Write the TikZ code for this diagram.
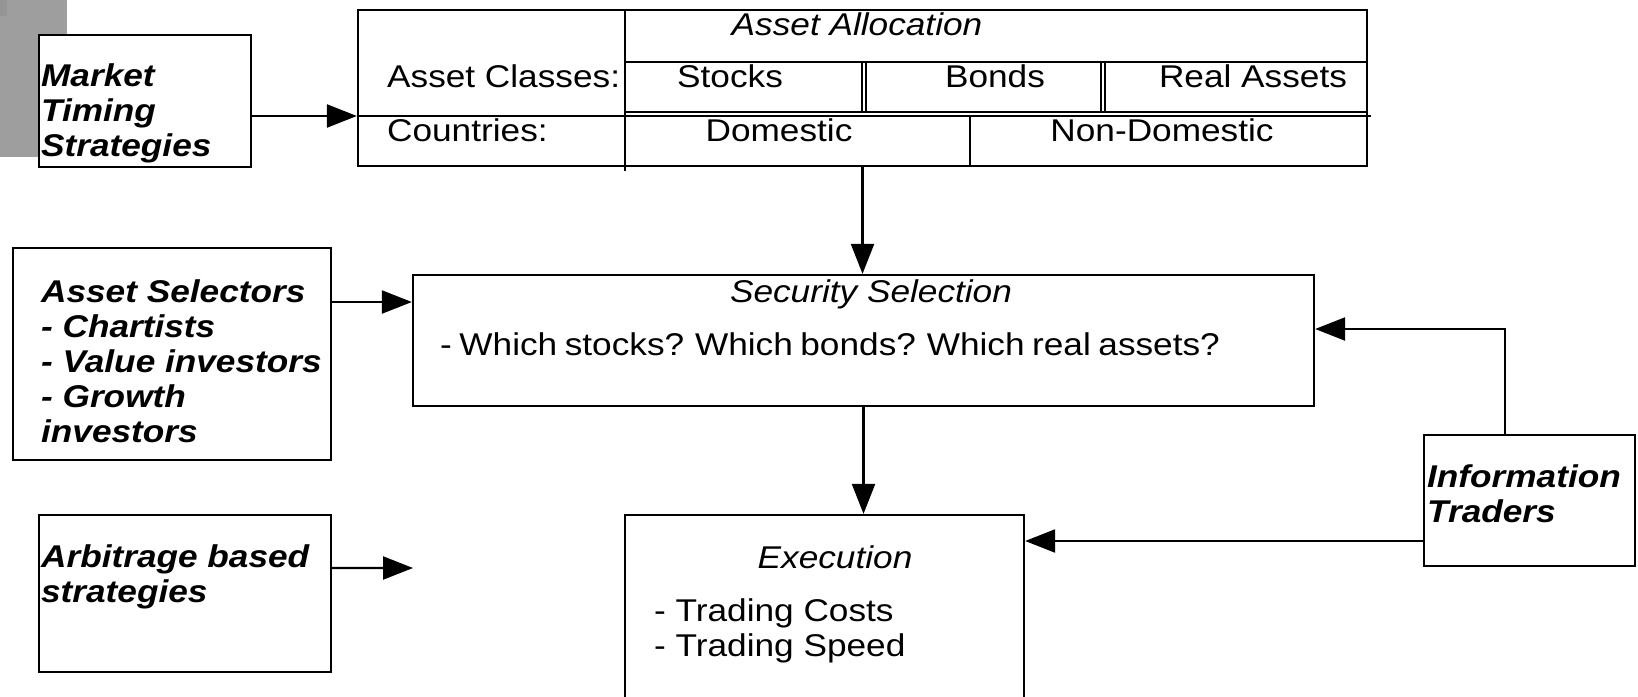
\documentclass[tikz,border=0pt]{standalone}
\usepackage{fontspec}
\setmainfont{Liberation Sans}[FakeStretch=1.12]
\usetikzlibrary{arrows.meta,fit}
\definecolor{slidegray}{HTML}{9E9E9E}
\definecolor{cornergray}{HTML}{959595}

\begin{document}
\begin{tikzpicture}[x=0.02cm, y=-0.02cm, line width=1.3pt,
    box/.style = {draw, fill=white, inner sep=0pt},
    txt/.style = {inner sep=0pt, anchor=base west, align=left,
        font=\fontsize{17.9}{19.9}\selectfont},
    head/.style = {txt, anchor=base,
        font=\fontsize{17.9}{19.9}\selectfont\itshape},
    strat/.style = {txt,
        font=\fontsize{17.9}{19.9}\selectfont\bfseries\itshape},
    arr/.style = {-{Triangle[length=0.6cm, width=0.46cm]}}]

\path[use as bounding box] (0,0) rectangle (1638,696);

% Slide corner
\fill[slidegray] (0,0) rectangle (67,157);
\fill[cornergray] (0,0) rectangle (7,16);

% Market timing (text anchored at its last line)
\node[box, fit={(39,35) (251,167)}] (mts) {};
\node[strat] (mtstxt) at (40,156) {Market\\Timing\\Strategies};

% Asset allocation table
\node[box, fit={(358,10) (1367,166)}] (aa) {};
\draw (625,10) -- (625,171);
\draw (625,62) -- (1367,62);
\draw (625,112) -- (1367,112);
\draw (358,116) -- (1371,116);
\draw (862,62) -- (862,112) (866,62) -- (866,112);
\draw (1101,62) -- (1101,112) (1105,62) -- (1105,112);
\draw (970,116) -- (970,166);
\node[head] (aatitle) at (857,36) {Asset Allocation};
\node[txt] (classes) at (386,88) {Asset Classes:};
\node[txt] (countries) at (386,141) {Countries:};
\node[txt, anchor=base] (stocks) at (730,88) {Stocks};
\node[txt, anchor=base] (bonds) at (995,88) {Bonds};
\node[txt, anchor=base] (real) at (1253,88) {Real Assets};
\node[txt, anchor=base] (dom) at (779,141) {Domestic};
\node[txt, anchor=base] (nondom) at (1162,141) {Non-Domestic};

% Security selection
\node[box, fit={(413,275) (1314,406)}] (ss) {};
\node[head] (sstitle) at (871,302) {Security Selection};
\node[txt] (sstxt) at (439,355)
    {\spaceskip=0.24em - Which stocks? Which bonds? Which real assets?};

% Execution
\node[box, fit={(625,515) (1024,720)}] (ex) {};
\node[head] (extitle) at (835,568) {Execution};
\node[txt] (extxt) at (653,656) {- Trading Costs\\- Trading Speed};

% Asset selectors
\node[box, fit={(13,248) (331,460)}] (as) {};
\node[strat] (astxt) at (40,442)
    {Asset Selectors\\- Chartists\\- Value investors\\- Growth\\investors};

% Arbitrage
\node[box, fit={(39,515) (331,672)}] (ab) {};
\node[strat] (abtxt) at (40,602) {Arbitrage based\\strategies};

% Information traders
\node[box, fit={(1424,435) (1635,566)}] (it) {};
\node[strat] (ittxt) at (1426,522) {Information\\Traders};

% Arrows
\coordinate (mtsout) at ([yshift=-0.3cm]mts.east);
\draw[arr] (mtsout) -- (mtsout -| aa.west);
\draw[arr] (aa.south) -- (aa.south |- ss.north);
\draw[arr] (ss.south) -- (ss.south |- ex.north);
\coordinate (asout) at ([yshift=1.04cm]as.east);
\draw[arr] (asout) -- (asout -| ss.west);
\coordinate (about) at ([yshift=0.51cm]ab.east);
\coordinate (abtip) at (413,568);
\draw[arr] (about) -- (abtip);
\draw[arr] ([xshift=-0.49cm]it.north) |- ([yshift=0.23cm]ss.east);
\coordinate (itout) at ([yshift=-0.81cm]it.west);
\draw[arr] (itout) -- (itout -| ex.east);
\end{tikzpicture}
\end{document}
